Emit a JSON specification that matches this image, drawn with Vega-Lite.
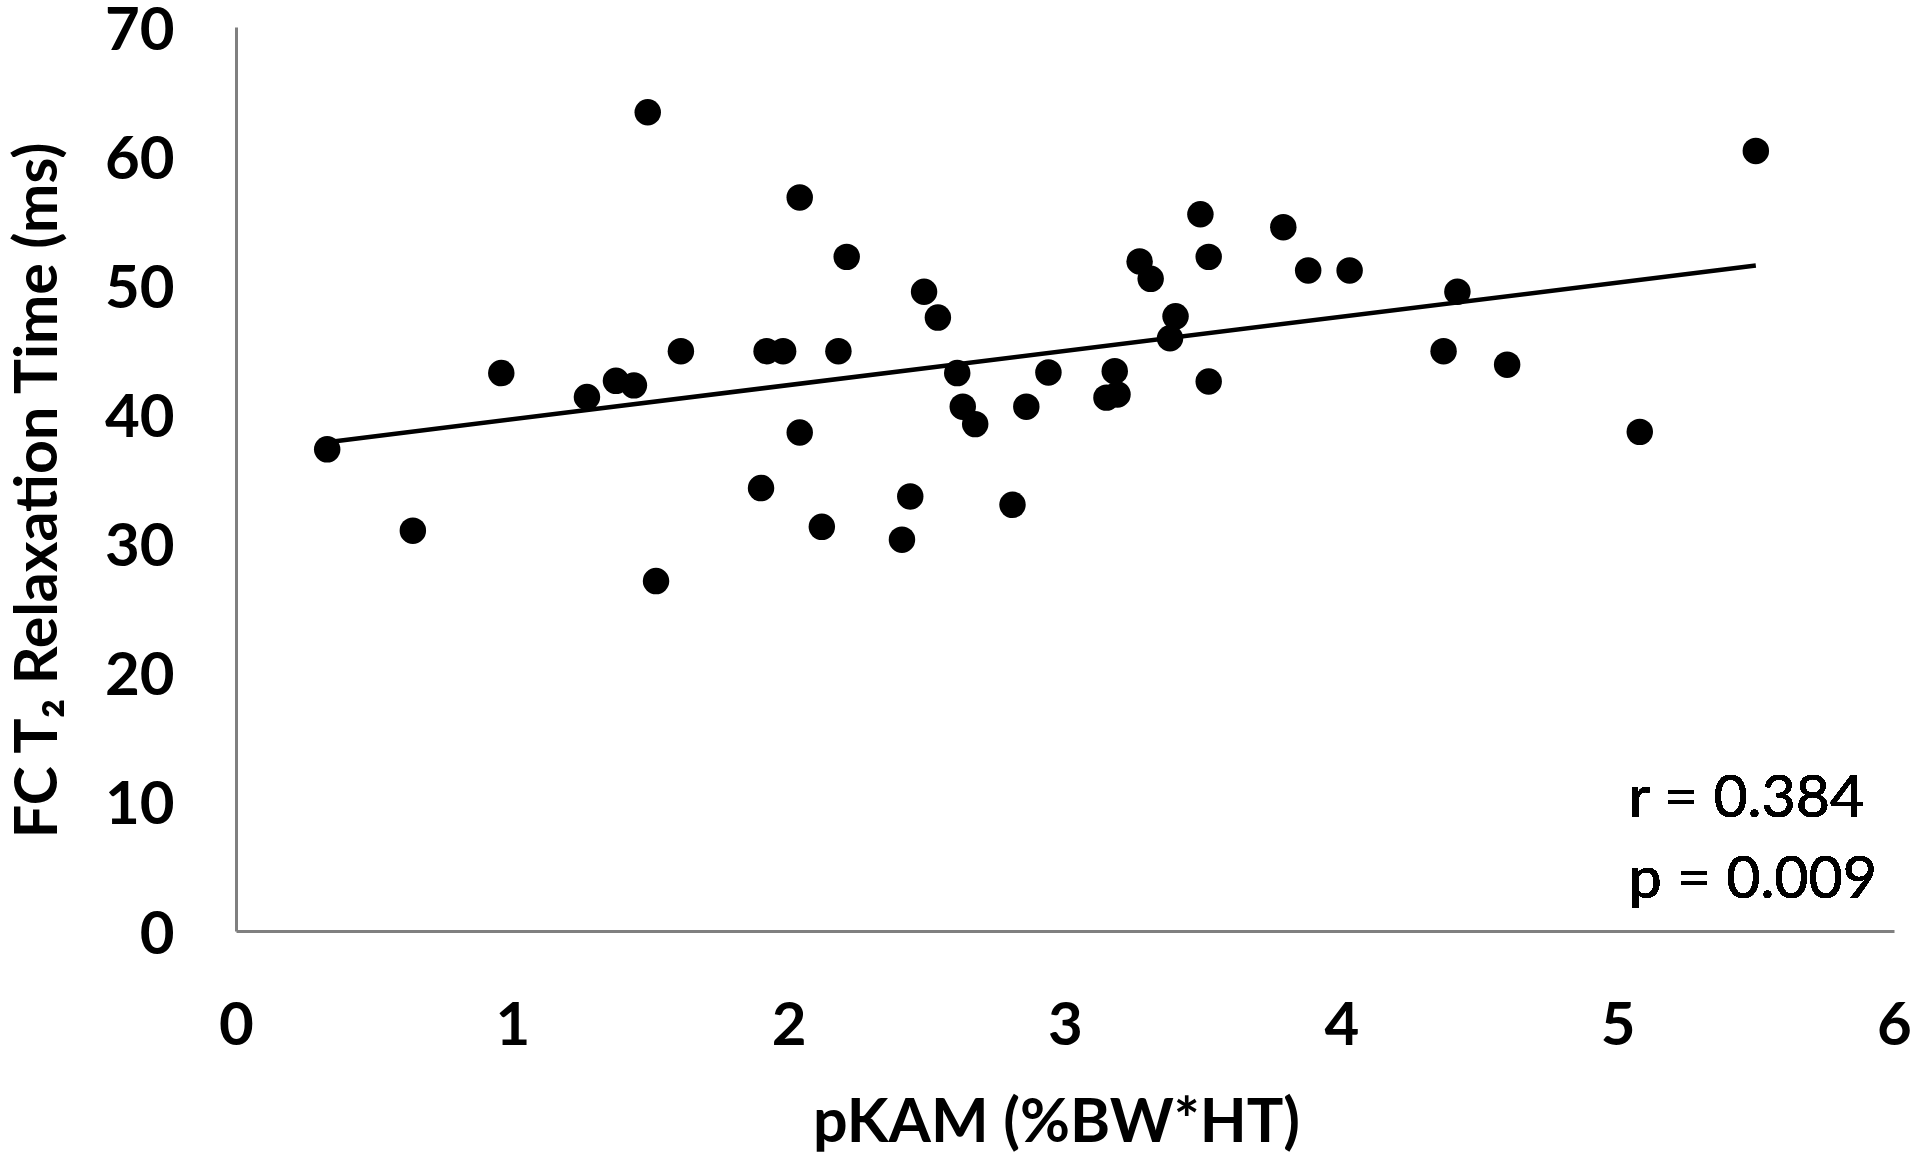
{
  "$schema": "https://vega.github.io/schema/vega-lite/v6.json",
  "autosize": "none",
  "width": 1658,
  "height": 904,
  "padding": {"left": 236, "top": 27, "right": 26, "bottom": 222},
  "background": "white",
  "config": {
    "view": {"stroke": null},
    "axis": {
      "grid": false,
      "ticks": false,
      "tickSize": 0,
      "domainColor": "#808080",
      "domainWidth": 3,
      "labelFont": "Lato",
      "labelFontWeight": "bold",
      "labelFontSize": 60,
      "labelColor": "#000000",
      "titleFont": "Lato",
      "titleFontWeight": "bold",
      "titleFontSize": 61,
      "titleColor": "#000000"
    }
  },
  "data": {
    "values": [
      {"pKAM": 0.33, "T2": 37.3},
      {"pKAM": 0.64, "T2": 31.0},
      {"pKAM": 0.96, "T2": 43.2},
      {"pKAM": 1.27, "T2": 41.35},
      {"pKAM": 1.375, "T2": 42.6},
      {"pKAM": 1.44, "T2": 42.25},
      {"pKAM": 1.49, "T2": 63.4},
      {"pKAM": 1.52, "T2": 27.1},
      {"pKAM": 1.61, "T2": 44.9},
      {"pKAM": 1.9, "T2": 34.3},
      {"pKAM": 1.92, "T2": 44.9},
      {"pKAM": 1.98, "T2": 44.9},
      {"pKAM": 2.04, "T2": 56.8},
      {"pKAM": 2.04, "T2": 38.6},
      {"pKAM": 2.12, "T2": 31.3},
      {"pKAM": 2.18, "T2": 44.9},
      {"pKAM": 2.21, "T2": 52.2},
      {"pKAM": 2.41, "T2": 30.3},
      {"pKAM": 2.44, "T2": 33.65},
      {"pKAM": 2.49, "T2": 49.5},
      {"pKAM": 2.54, "T2": 47.5},
      {"pKAM": 2.61, "T2": 43.2},
      {"pKAM": 2.63, "T2": 40.6},
      {"pKAM": 2.675, "T2": 39.25},
      {"pKAM": 2.81, "T2": 33.0},
      {"pKAM": 2.86, "T2": 40.6},
      {"pKAM": 2.94, "T2": 43.25},
      {"pKAM": 3.15, "T2": 41.3},
      {"pKAM": 3.19, "T2": 41.55},
      {"pKAM": 3.18, "T2": 43.35},
      {"pKAM": 3.27, "T2": 51.85},
      {"pKAM": 3.31, "T2": 50.5},
      {"pKAM": 3.38, "T2": 45.9},
      {"pKAM": 3.4, "T2": 47.6},
      {"pKAM": 3.49, "T2": 55.5},
      {"pKAM": 3.52, "T2": 52.2},
      {"pKAM": 3.52, "T2": 42.55},
      {"pKAM": 3.79, "T2": 54.5},
      {"pKAM": 3.88, "T2": 51.15},
      {"pKAM": 4.03, "T2": 51.15},
      {"pKAM": 4.37, "T2": 44.9},
      {"pKAM": 4.42, "T2": 49.5},
      {"pKAM": 4.6, "T2": 43.85},
      {"pKAM": 5.08, "T2": 38.65},
      {"pKAM": 5.5, "T2": 60.4}
    ]
  },
  "encoding": {
    "x": {
      "field": "pKAM",
      "type": "quantitative",
      "scale": {"domain": [0, 6], "nice": false, "zero": false},
      "axis": {
        "values": [0, 1, 2, 3, 4, 5, 6],
        "format": "d",
        "labelPadding": 113,
        "labelBaseline": "alphabetic",
        "labelFlush": false,
        "labelOverlap": false,
        "title": "pKAM (%BW*HT)",
        "titleX": 820,
        "titleY": 210,
        "titleAlign": "center",
        "titleBaseline": "alphabetic"
      }
    },
    "y": {
      "field": "T2",
      "type": "quantitative",
      "scale": {"domain": [0, 70], "nice": false, "zero": false},
      "axis": {
        "values": [0, 10, 20, 30, 40, 50, 60, 70],
        "format": "d",
        "labelPadding": 62,
        "labelBaseline": "alphabetic",
        "labelOffset": 22,
        "labelFlush": false,
        "labelOverlap": false,
        "title": "FC T₂ Relaxation Time (ms)",
        "titleFontSize": 59,
        "titleAngle": 270,
        "titleX": -180,
        "titleY": 463,
        "titleAlign": "center",
        "titleBaseline": "alphabetic"
      }
    }
  },
  "layer": [
    {
      "mark": {"type": "circle", "size": 700, "color": "#000000", "opacity": 1}
    },
    {
      "transform": [{"regression": "T2", "on": "pKAM"}],
      "mark": {"type": "line", "color": "#000000", "strokeWidth": 4.5}
    },
    {
      "mark": {
        "type": "text",
        "font": "Lato",
        "fontSize": 59,
        "fontWeight": "normal",
        "color": "#000000",
        "align": "left",
        "baseline": "alphabetic",
        "lineHeight": 81
      },
      "encoding": {
        "x": {"datum": 5.04},
        "y": {"datum": 8.86},
        "text": {"value": ["r = 0.384", "p = 0.009"]}
      }
    }
  ]
}
